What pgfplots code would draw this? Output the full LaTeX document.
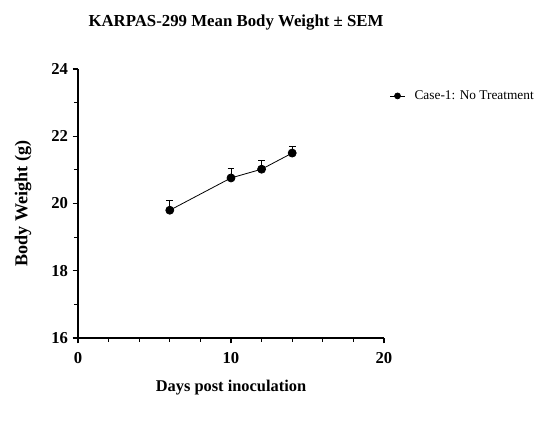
\documentclass[border=0pt]{standalone}
\usepackage{pgfplots}
\pgfplotsset{compat=1.18}
\usepackage{fontspec}
\setmainfont{Liberation Serif}

\begin{document}
\begin{tikzpicture}
  % fixed canvas
  \useasboundingbox (0pt,0pt) rectangle (413.25pt,316.5pt);
  \begin{axis}[
    at={(58.5pt,63pt)}, anchor=south west,
    scale only axis,
    width=229.5pt, height=201.75pt,
    xmin=0, xmax=20, ymin=16, ymax=24,
    axis lines=left,
    axis line style={-, line width=0.8pt},
    xtick={0,10,20}, ytick={16,18,20,22,24},
    minor xtick={2,4,6,8,12,14,16,18},
    minor ytick={17,19,21,23},
    tick align=outside,
    major tick length=4pt, minor tick length=3pt,
    tick style={line width=0.8pt, black},
    /pgf/number format/assume math mode=true,
    ticklabel style={font=\fontsize{12.5}{13}\selectfont\bfseries},
    xticklabel style={yshift=-3pt},
    xlabel={Days post inoculation},
    ylabel={Body Weight (g)},
    xlabel style={font=\fontsize{12.3}{13}\selectfont\bfseries, yshift=-6pt},
    ylabel style={font=\fontsize{13.6}{14}\selectfont\bfseries, yshift=8pt},
    clip=false,
    legend style={at={(1.005,0.9)}, anchor=west, draw=none, fill=none,
      font=\fontsize{10}{12}\selectfont, column sep=5pt},
    legend image code/.code={
      \draw[black, line width=0.6pt] (0pt,0pt) -- (11pt,0pt);
      \fill[black] (5.5pt,0pt) circle (2.2pt);
    },
    legend cell align=left,
  ]
    \addplot[black, line width=0.6pt, mark=*, mark size=3pt,
      error bars/.cd, y dir=plus, y explicit,
      error bar style={line width=0.6pt, black},
      error mark options={rotate=90, mark size=2.5pt, line width=0.6pt}]
      table[x=day, y=w, y error=sem] {
        day  w      sem
        6    19.80  0.28
        10   20.76  0.27
        12   21.02  0.27
        14   21.50  0.21
      };
    \addlegendentry{Case-1: No Treatment}
  \end{axis}
  \node[font=\fontsize{12.6}{14}\selectfont\bfseries] at (177pt,299.5pt) {KARPAS-299 Mean Body Weight \textpm{} SEM};
\end{tikzpicture}
\end{document}
